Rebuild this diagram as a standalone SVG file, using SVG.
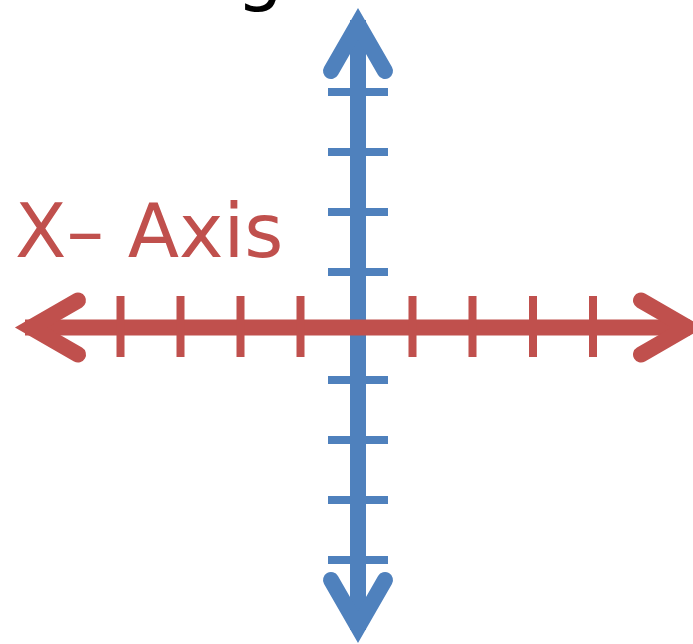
<svg xmlns="http://www.w3.org/2000/svg" width="693" height="644" viewBox="0 0 693 644">
<style>
.red{stroke:#C0504D;fill:none}
.blue{stroke:#4F81BD;fill:none}
.shaft{stroke-width:16}
.head{stroke-width:16;stroke-linecap:round;stroke-linejoin:miter;stroke-miterlimit:10}
.tick{stroke-width:8}
.lbl{font-family:"DejaVu Sans",sans-serif;font-size:75px}
</style>
<rect width="693" height="644" fill="#ffffff"/>
<g id="title"><text class="lbl" x="236" y="-4" fill="#000000">g</text></g>
<g id="x-label"><text class="lbl" x="15" y="257" fill="#C0504D">X– Axis</text></g>
<g id="connectors">
<g id="y-axis" class="blue">
<line class="shaft" x1="358" y1="20" x2="358" y2="630"/>
<polyline class="head" points="331,71 358,24 385,71"/>
<polyline class="head" points="331,580 358,627 385,580"/>
<path class="tick" d="M328,92H388M328,152H388M328,212H388M328,272H388M328,380H388M328,440H388M328,500H388M328,560H388"/>
</g>
<g id="x-axis" class="red">
<line class="shaft" x1="25" y1="327.5" x2="690" y2="327.5"/>
<polyline class="head" points="78,300.5 31,327.5 78,354.5"/>
<polyline class="head" points="641,300.5 688,327.5 641,354.5"/>
<path class="tick" d="M120.5,296V357M180.5,296V357M240.5,296V357M300.5,296V357M412.5,296V357M472.5,296V357M533,296V357M593,296V357"/>
</g>
</g>
</svg>
